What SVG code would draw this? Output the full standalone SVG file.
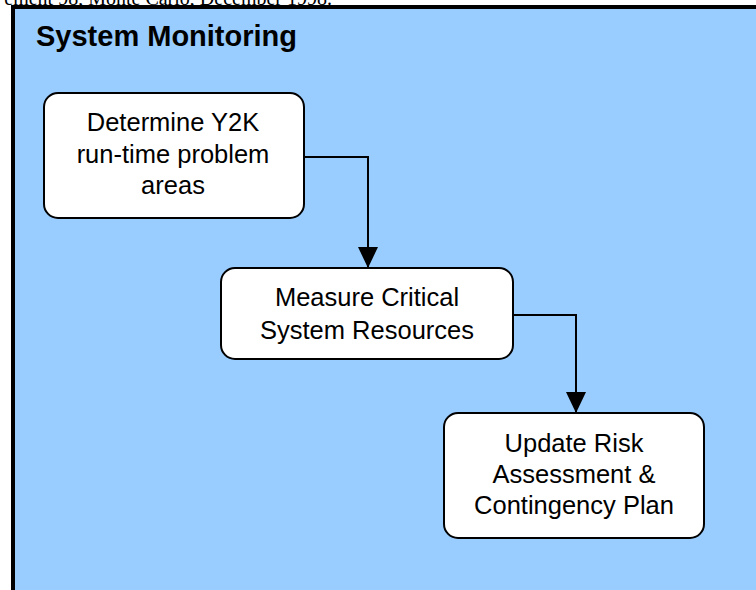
<svg xmlns="http://www.w3.org/2000/svg" width="756" height="590" viewBox="0 0 756 590">
<style>
.node rect{fill:#ffffff;stroke:#000000;stroke-width:2}
.node text{font-family:"Liberation Sans",Arial,sans-serif;font-size:25.5px;fill:#000000;text-anchor:middle}
.conn path{fill:none;stroke:#000000;stroke-width:2}
</style>
<defs>
<marker id="arr" markerUnits="userSpaceOnUse" markerWidth="22" markerHeight="20" refX="21" refY="10" orient="auto">
<path d="M0,0 L21,10 L0,20 Z" fill="#000000"/>
</marker>
</defs>
<rect width="756" height="590" fill="#ffffff"/>
<text x="332" y="5" font-family="'Liberation Serif','Times New Roman',serif" font-size="20" text-anchor="end" fill="#000000">ement 98, Monte Carlo, December 1998.</text>
<rect id="frame" x="13" y="7" width="760" height="600" fill="#99CCFF" stroke="#000000" stroke-width="4"/>
<text id="title" x="36" y="46" font-family="'Liberation Sans',Arial,sans-serif" font-size="29" font-weight="bold" fill="#000000">System Monitoring</text>
<g id="connectors" class="conn">
<path d="M304,157 H368 V268" marker-end="url(#arr)"/>
<path d="M513,315 H576 V413" marker-end="url(#arr)"/>
</g>
<g id="node1" class="node">
<rect x="44" y="93" width="260" height="125" rx="14" ry="14"/>
<text x="173" y="131">Determine Y2K</text>
<text x="173" y="163">run-time problem</text>
<text x="173" y="194">areas</text>
</g>
<g id="node2" class="node">
<rect x="221" y="268" width="292" height="91" rx="14" ry="14"/>
<text x="367" y="306">Measure Critical</text>
<text x="367" y="339">System Resources</text>
</g>
<g id="node3" class="node">
<rect x="444" y="413" width="260" height="125" rx="14" ry="14"/>
<text x="574" y="452">Update Risk</text>
<text x="574" y="483">Assessment &amp;</text>
<text x="574" y="514">Contingency Plan</text>
</g>
</svg>
